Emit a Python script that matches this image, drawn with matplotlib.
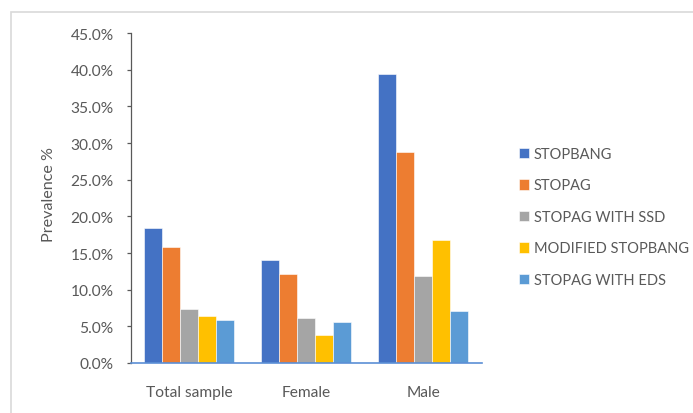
import matplotlib
matplotlib.use("Agg")
import matplotlib.pyplot as plt
import numpy as np
from matplotlib.patches import Rectangle
from matplotlib.ticker import FuncFormatter

categories = ["Total sample", "Female", "Male"]
series_names = ["STOPBANG", "STOPAG", "STOPAG WITH SSD", "MODIFIED STOPBANG", "STOPAG WITH EDS"]
stopbang = [18.4, 14.1, 39.4]
stopag = [15.8, 12.2, 28.8]
stopag_ssd = [7.4, 6.2, 11.9]
modified_stopbang = [6.4, 3.8, 16.8]
stopag_eds = [5.9, 5.6, 7.1]
values = [stopbang, stopag, stopag_ssd, modified_stopbang, stopag_eds]
colors = ["#4472C4", "#ED7D31", "#A5A5A5", "#FFC000", "#5B9BD5"]
y_ticks = [0, 5, 10, 15, 20, 25, 30, 35, 40, 45]

plt.rcParams['font.family'] = ['Lato', 'DejaVu Sans']
fig = plt.figure(figsize=(6.93, 4.14), dpi=100)
fig.patches.append(Rectangle((11/693, -0.1), 1.2, 1 - 13/414 + 0.1, transform=fig.transFigure,
                             fill=False, edgecolor="#D9D9D9", linewidth=1.2))
ax = fig.add_axes([131/693, 1 - 364/414, 350.7/693, 330/414])

x = np.arange(len(categories))
w = 1 / 6.5
for i, (vals, name, c) in enumerate(zip(values, series_names, colors)):
    ax.bar(x + (i - 2) * w, vals, width=w, color=c, label=name, edgecolor="white", linewidth=0.4)

ax.set_xlim(-0.5, 2.5)
ax.set_ylim(0, 45)
ax.set_yticks(y_ticks)
ax.yaxis.set_major_formatter(FuncFormatter(lambda v, p: f"{v:.1f}%"))
ax.set_xticks(x)
ax.set_xticklabels(categories)
for s in ["top", "right"]:
    ax.spines[s].set_visible(False)
ax.spines["left"].set_color("#595959")
ax.spines["left"].set_linewidth(0.9)
ax.spines["bottom"].set_color("#5B8FD5")
ax.spines["bottom"].set_linewidth(1.2)
ax.tick_params(axis="y", direction="out", length=3, width=0.9, color="#595959",
               labelcolor="#595959", labelsize=11.2, pad=9.5)
ax.tick_params(axis="x", length=0, labelcolor="#595959", labelsize=11.2, pad=16)
ax.set_ylabel("Prevalence %", color="#595959", fontsize=11.6)
ax.yaxis.set_label_coords(-75/350.7, (364 - 195) / 330)

fig.legend(loc="center left", bbox_to_anchor=(506/693, 1 - 218/414), frameon=False,
           fontsize=10.5, labelcolor="#595959", handlelength=0.7, handleheight=0.7,
           handletextpad=0.3, labelspacing=1.2)

fig.savefig("out.png", dpi=100)
